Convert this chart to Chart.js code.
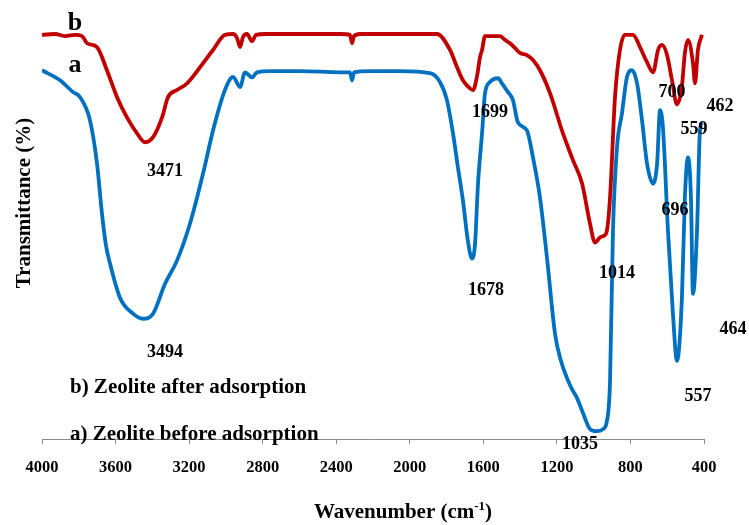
<!DOCTYPE html>
<html>
<head>
<meta charset="utf-8">
<script src="https://cdn.jsdelivr.net/npm/chart.js@4/dist/chart.umd.min.js"></script>
<style>
	html, body { margin: 0; padding: 0; background: #fff; }
	#wrap { width: 749px; height: 525px; }
</style>
</head>
<body>
<div id="wrap"><canvas id="graph"></canvas></div>
<script>
"use strict";

// b) zeolite after adsorption (red)
const afterWn = [4000, 3929, 3875, 3821, 3782, 3755, 3701, 3647, 3592, 3538, 3483, 3440, 3396, 3347, 3315, 3266, 3211, 3141, 3070, 3005, 2961, 2939, 2923, 2907, 2885, 2858, 2836, 2787, 2597, 2379, 2325, 2314, 2303, 2271, 2053, 1852, 1781, 1743, 1711, 1673, 1656, 1635, 1618, 1607, 1591, 1537, 1509, 1482, 1455, 1428, 1401, 1363, 1330, 1292, 1237, 1167, 1112, 1063, 1020, 993, 966, 944, 928, 911, 884, 857, 830, 786, 748, 710, 677, 650, 628, 601, 574, 547, 520, 504, 487, 460, 449, 433, 411];
const afterT = [96.0, 96.2, 95.7, 96.0, 95.7, 94.0, 93.1, 87.6, 81.2, 76.4, 72.6, 70.5, 71.7, 76.4, 81.2, 82.9, 84.5, 88.3, 92.4, 96.0, 96.2, 95.2, 93.1, 95.5, 96.2, 94.5, 96.0, 96.2, 96.2, 96.2, 96.0, 94.0, 95.7, 96.2, 96.2, 96.2, 92.4, 88.3, 85.2, 83.3, 82.9, 86.0, 90.7, 92.4, 95.7, 95.7, 95.7, 94.8, 94.0, 92.9, 91.7, 91.2, 90.0, 87.6, 82.1, 72.6, 66.2, 60.7, 51.2, 46.7, 47.9, 48.3, 49.5, 57.4, 81.2, 92.4, 96.0, 96.0, 93.1, 89.5, 87.1, 92.4, 93.6, 91.2, 85.2, 79.5, 83.8, 91.7, 94.8, 89.3, 84.5, 92.4, 96.0];

// a) zeolite before adsorption (blue)
const beforeWn = [4000, 3902, 3831, 3793, 3739, 3701, 3674, 3652, 3630, 3576, 3505, 3451, 3396, 3331, 3266, 3195, 3124, 3070, 3005, 2961, 2923, 2896, 2858, 2831, 2760, 2597, 2379, 2325, 2314, 2303, 2216, 2053, 1890, 1836, 1798, 1765, 1738, 1711, 1684, 1662, 1645, 1629, 1607, 1591, 1564, 1520, 1499, 1466, 1439, 1412, 1363, 1330, 1292, 1254, 1210, 1178, 1145, 1118, 1091, 1058, 1020, 982, 949, 928, 911, 895, 873, 846, 819, 792, 764, 737, 710, 677, 655, 639, 623, 596, 569, 547, 520, 504, 487, 471, 460, 438, 422, 411];
const beforeT = [87.6, 85.2, 82.4, 81.2, 75.7, 65.5, 53.6, 46.0, 41.7, 33.6, 29.8, 28.6, 29.8, 36.9, 42.4, 51.2, 63.1, 73.3, 82.9, 86.0, 83.6, 87.1, 85.9, 87.1, 87.4, 87.4, 87.1, 87.1, 85.2, 87.1, 87.4, 87.4, 86.9, 84.8, 80.5, 72.6, 64.5, 56.7, 47.1, 42.9, 46.4, 60.7, 72.6, 82.1, 84.8, 85.7, 84.5, 82.4, 80.5, 75.2, 73.3, 66.9, 57.4, 43.1, 25.0, 18.6, 14.5, 11.9, 9.8, 6.2, 2.4, 1.9, 2.4, 4.3, 13.8, 49.5, 69.3, 77.4, 86.0, 87.6, 84.5, 75.7, 65.5, 60.7, 65.5, 78.1, 73.8, 49.5, 29.8, 18.6, 33.6, 57.4, 66.9, 57.4, 34.5, 49.5, 73.3, 75.2];

const xTicks = [4000, 3600, 3200, 2800, 2400, 2000, 1600, 1200, 800, 400];

// peak labels: text, wavenumber, transmittance (baseline)
const peakText = ["3471", "3494", "1699", "1678", "1014", "1035", "700", "462", "559", "696", "464", "557"];
const peakWn = [3331, 3331, 1564, 1586, 873, 1074, 574, 313, 455, 558, 242, 433];
const peakT = [62.6, 19.5, 76.4, 34.3, 38.3, -2.4, 81.2, 77.9, 72.4, 53.3, 25.0, 9.0];

const curveText = ["b", "a"];
const curveWn = [3821, 3821];
const curveT = [97.1, 87.1];

const legendText = ["b) Zeolite after adsorption", "a) Zeolite before adsorption"];
const legendWn = [3848, 3848];
const legendT = [10.9, -0.2];

const FONT = '"Liberation Serif", "Times New Roman", serif';

const textPlugin = {
	id: "texts",
	afterDraw(chart) {
		const { ctx, scales: { x, y }, chartArea } = chart;
		ctx.save();
		ctx.fillStyle = "#000";
		ctx.textBaseline = "alphabetic";

		ctx.textAlign = "center";
		ctx.font = "bold 18px " + FONT;
		peakText.forEach((t, i) => ctx.fillText(t, x.getPixelForValue(peakWn[i]), y.getPixelForValue(peakT[i])));

		ctx.font = "bold 26px " + FONT;
		curveText.forEach((t, i) => ctx.fillText(t, x.getPixelForValue(curveWn[i]), y.getPixelForValue(curveT[i])));

		ctx.textAlign = "left";
		ctx.font = "bold 21px " + FONT;
		legendText.forEach((t, i) => ctx.fillText(t, x.getPixelForValue(legendWn[i]), y.getPixelForValue(legendT[i])));

		// y axis title
		ctx.save();
		ctx.translate(chartArea.left - 17, chartArea.top + 185);
		ctx.rotate(-Math.PI / 2);
		ctx.textAlign = "center";
		ctx.textBaseline = "middle";
		ctx.font = "bold 21px " + FONT;
		ctx.fillText("Transmittance (%)", 0, 0);
		ctx.restore();

		// x axis title with superscript
		ctx.textBaseline = "alphabetic";
		const base = chartArea.bottom + 79;
		const big = "bold 21px " + FONT, small = "bold 13px " + FONT;
		ctx.font = big;
		const w1 = ctx.measureText("Wavenumber (cm").width;
		const w3 = ctx.measureText(")").width;
		ctx.font = small;
		const w2 = ctx.measureText("-1").width;
		const left = (chartArea.left + chartArea.right) / 2 + 30 - (w1 + w2 + w3) / 2;
		ctx.font = big;
		ctx.fillText("Wavenumber (cm", left, base);
		ctx.font = small;
		ctx.fillText("-1", left + w1, base - 8);
		ctx.font = big;
		ctx.fillText(")", left + w1 + w2, base);
		ctx.restore();
	},
};

new Chart(document.querySelector("#graph").getContext("2d"), {
	type: "line",
	data: {
		datasets: [
			{
				label: "b) Zeolite after adsorption",
				data: afterWn.map((w, i) => ({ x: w, y: afterT[i] })),
				borderColor: "#C00000",
			},
			{
				label: "a) Zeolite before adsorption",
				data: beforeWn.map((w, i) => ({ x: w, y: beforeT[i] })),
				borderColor: "#0070C0",
			},
		],
	},
	options: {
		responsive: true,
		maintainAspectRatio: false,
		animation: false,
		layout: { padding: { left: 42, right: 45, top: 18, bottom: 33 } },
		elements: {
			point: { radius: 0 },
			line: { borderWidth: 3.8, cubicInterpolationMode: "monotone", fill: false },
		},
		plugins: { legend: { display: false }, tooltip: { enabled: false } },
		scales: {
			x: {
				type: "linear",
				reverse: true,
				min: 400,
				max: 4000,
				afterBuildTicks(scale) {
					scale.ticks = xTicks.map((v) => ({ value: v }));
				},
				grid: { display: true, drawOnChartArea: false, drawTicks: true, tickLength: 5, color: "#8c8c8c" },
				border: { display: true, color: "#8c8c8c", width: 1 },
				ticks: {
					color: "#000",
					padding: 14,
					maxRotation: 0,
					font: { family: FONT, size: 16.5, weight: "bold" },
					callback: (v) => String(v),
				},
			},
			y: {
				display: false,
				min: 0,
				max: 100,
			},
		},
	},
	plugins: [textPlugin],
});
</script>
</body>
</html>
